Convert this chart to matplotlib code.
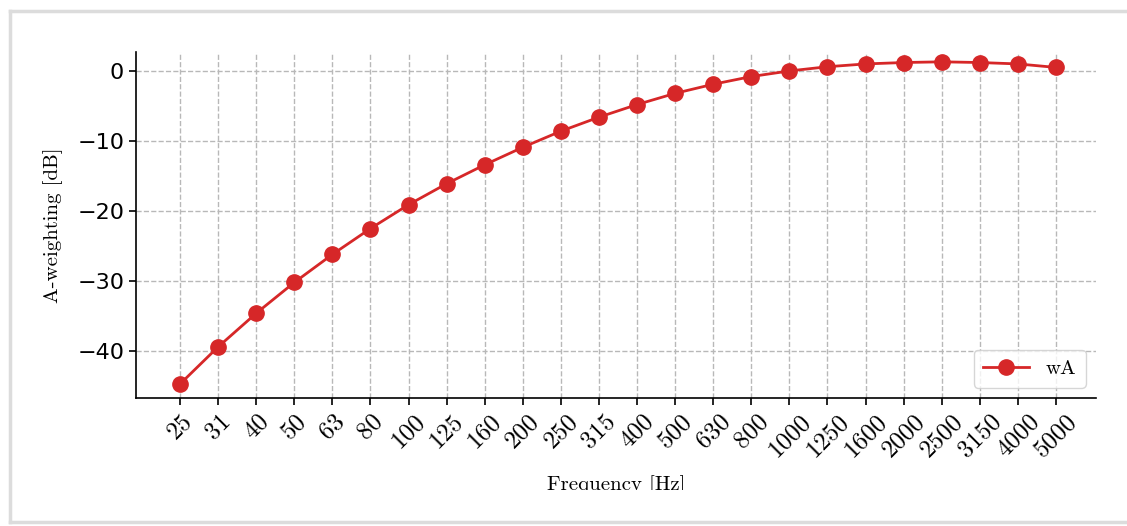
import matplotlib
matplotlib.use("Agg")
import matplotlib.pyplot as plt
from matplotlib.transforms import Bbox, TransformedBbox
from matplotlib.lines import Line2D

# third-octave band centres and A-weighting (dB)
freqs = ["25", "31", "40", "50", "63", "80", "100", "125", "160", "200", "250", "315",
         "400", "500", "630", "800", "1000", "1250", "1600", "2000", "2500", "3150",
         "4000", "5000"]
wA = [-44.7, -39.4, -34.6, -30.2, -26.2, -22.5, -19.1, -16.1, -13.4, -10.9, -8.6, -6.6,
      -4.8, -3.2, -1.9, -0.8, 0.0, 0.6, 1.0, 1.2, 1.3, 1.2, 1.0, 0.5]

serif = "cmr10"

fig = plt.figure(figsize=(11.27, 5.26), dpi=100)
ax = fig.add_axes([0.1207, 0.2433, 0.8518, 0.6578])

# screenshot frame
for x0, y0, x1, y1 in [(0.0093, 0.008, 0.0093, 0.979), (0.0093, 0.979, 1.0, 0.979),
                       (0.0093, 0.008, 1.0, 0.008)]:
    fig.add_artist(Line2D([x0, x1], [y0, y1], transform=fig.transFigure,
                          color="#dcdcdc", lw=2.5))

x = list(range(len(freqs)))
ax.plot(x, wA, color="#d62728", lw=2, marker="o", markersize=11, label="wA")

ax.spines["top"].set_visible(False)
ax.spines["right"].set_visible(False)
ax.spines["left"].set_linewidth(1.2)
ax.spines["bottom"].set_linewidth(1.2)

ax.set_xlim(-1.155, 24.05)
ax.set_ylim(-46.7, 2.7)
ax.set_yticks([0, -10, -20, -30, -40])
ax.tick_params(axis="y", labelsize=16, length=5, width=1.2)
ax.tick_params(axis="x", length=5, width=1.2)
ax.set_xticks(x)
ax.set_xticklabels(freqs, rotation=45, fontsize=18, family=serif)

ax.grid(True, linestyle="--", color="#b8b8b8", lw=1)

ax.set_ylabel("A-weighting [dB]", family=serif, fontsize=15, labelpad=10)
ax.set_xlabel("Frequency [Hz]", family=serif, fontsize=15, labelpad=10)
ax.xaxis.label.set_clip_box(TransformedBbox(Bbox([[0, 0.068], [1, 1]]), fig.transFigure))

ax.legend(loc="lower right", prop={"family": serif, "size": 15}, handlelength=2.2,
          borderpad=0.45, framealpha=0.8)

fig.savefig("out.png", dpi=100)
